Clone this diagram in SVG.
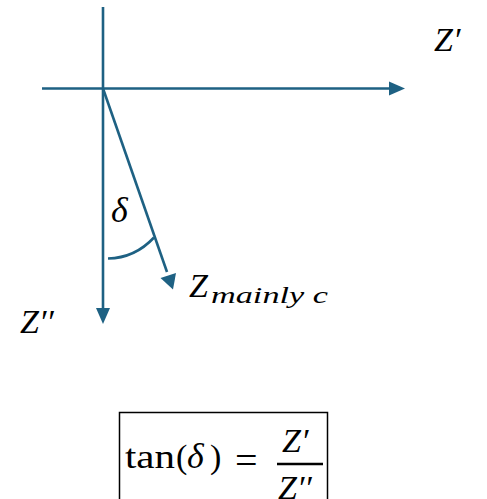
<svg xmlns="http://www.w3.org/2000/svg" width="487" height="499" viewBox="0 0 487 499">
<style>
.ax{stroke:#1e6183;stroke-width:2.6;fill:none}
.hd{fill:#1e6183}
.m{font-family:"Liberation Serif","DejaVu Serif",serif;font-style:italic;fill:#000}
.u{font-family:"Liberation Serif","DejaVu Serif",serif;fill:#000}
</style>
<rect width="487" height="499" fill="#fff"/>
<g id="connectors">
<line class="ax" x1="103" y1="7" x2="103" y2="310"/>
<polygon class="hd" points="96,308 110,308 103,324"/>
<line class="ax" x1="42" y1="88.5" x2="392" y2="88.5"/>
<polygon class="hd" points="389,81.5 389,95.5 405,88.5"/>
<line class="ax" x1="103" y1="88.5" x2="167" y2="272"/>
<polygon class="hd" points="160.5,278 176,273 173,289.5"/>
<path class="ax" d="M108,258.5 Q135,258 154,237.5"/>
</g>
<g id="label-zprime"><text class="m" x="434" y="51" font-size="34">Z′</text></g>
<g id="label-zdoubleprime"><text class="m" x="20" y="333" font-size="34">Z′′</text></g>
<g id="label-delta"><text class="m" x="111" y="222" font-size="36">δ</text></g>
<g id="label-zmainly">
<text class="m" x="189" y="297" font-size="34">Z</text>
<text class="m" x="211" y="303" font-size="24" textLength="117" lengthAdjust="spacingAndGlyphs">mainly c</text>
</g>
<g id="formula">
<rect x="119.5" y="412.5" width="208" height="100" fill="none" stroke="#000" stroke-width="1.5"/>
<text class="u" x="125" y="468" font-size="34" textLength="50" lengthAdjust="spacingAndGlyphs">tan</text>
<text class="u" x="176" y="468" font-size="34">(</text>
<text class="m" x="187" y="468" font-size="36">δ</text>
<text class="u" x="210" y="468" font-size="34">)</text>
<text class="u" x="235" y="474" font-size="40">=</text>
<text class="m" x="282" y="452" font-size="34">Z′</text>
<line x1="277" y1="464" x2="323" y2="464" stroke="#000" stroke-width="2.5"/>
<text class="m" x="278" y="499" font-size="34">Z′′</text>
</g>
</svg>
